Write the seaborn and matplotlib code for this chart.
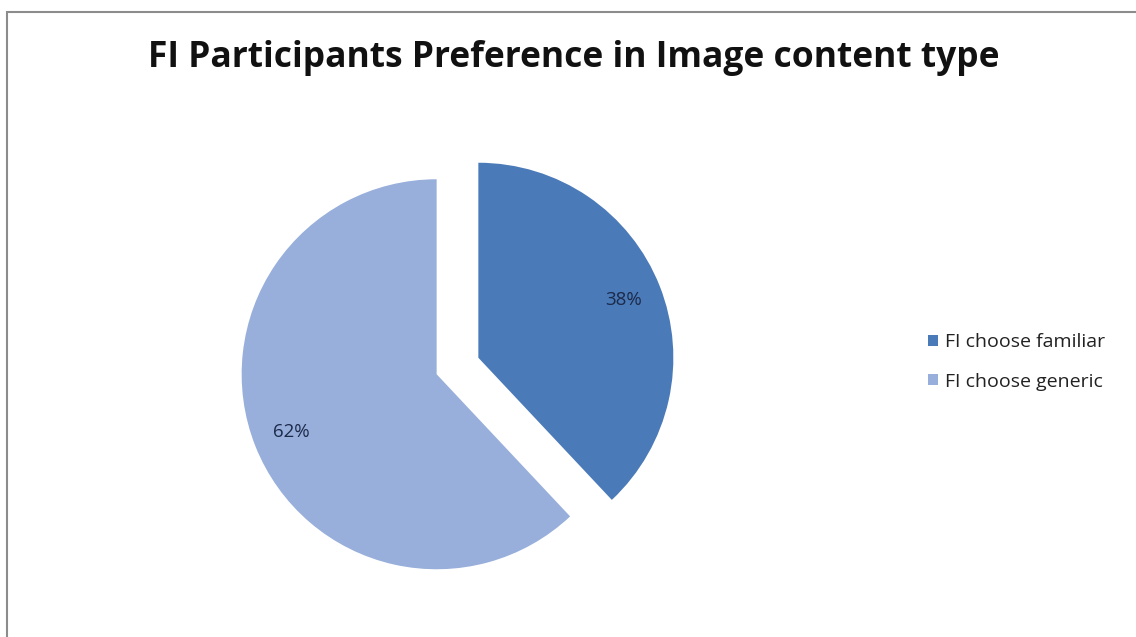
import matplotlib
matplotlib.use("Agg")
import matplotlib.pyplot as plt
import seaborn as sns
from matplotlib.patches import Rectangle

# Survey result: share of FI participants by preferred image content type
categories = ["FI choose familiar", "FI choose generic"]
shares = [38, 62]
title = "FI Participants Preference in Image content type"

sns.set_theme(style="white")
plt.rcParams["font.family"] = ["Open Sans", "DejaVu Sans"]

colors = ["#4a7ab8", "#98afdb"]

W, H = 1136, 637
R = 195  # pie radius in pixels
fig = plt.figure(figsize=(W / 100, H / 100), dpi=100)
fig.patch.set_facecolor("white")

# Pixel-based canvas for the whole chart area
ax = fig.add_axes([0, 0, 1, 1])
wedges, texts, autotexts = ax.pie(
    shares,
    colors=colors,
    startangle=90,
    counterclock=False,
    explode=[0.115 * R, 0.115 * R],
    radius=R,
    center=(457.5, H - 366),
    autopct="%d%%",
    pctdistance=0.8,
    textprops=dict(color="#1c2a4a", fontsize=13.5),
    wedgeprops=dict(linewidth=0),
)
ax.set_xlim(0, W)
ax.set_ylim(0, H)
ax.set_aspect("equal")
ax.axis("off")

# Thin chart frame
ax.add_patch(Rectangle((7, -10), W + 10, H - 12 + 10, fill=False,
                       edgecolor="#8c8c8c", linewidth=1.5))

ax.text(574, H - 58, title, ha="center", va="center",
        fontsize=25.5, fontweight="bold", color="#111111")

leg = ax.legend(wedges, categories, loc="center left",
                bbox_to_anchor=(920 / W, 1 - 362 / H),
                frameon=False, fontsize=14,
                handlelength=0.5, handleheight=0.5, handletextpad=0.4,
                labelspacing=1.1, borderaxespad=0)
for t in leg.get_texts():
    t.set_color("#222222")

fig.savefig("out.png", dpi=100)
